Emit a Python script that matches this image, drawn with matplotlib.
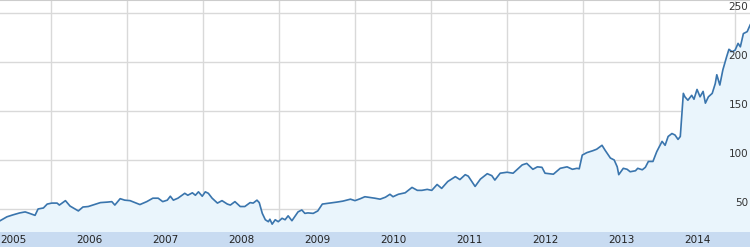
import matplotlib
matplotlib.use("Agg")
import matplotlib.pyplot as plt
from matplotlib.patches import Rectangle

# decimal year, price
dates = [2005.33, 2005.42, 2005.50, 2005.59, 2005.66, 2005.70, 2005.79, 2005.83, 2005.90, 2005.95,
         2006.01, 2006.08, 2006.11, 2006.19, 2006.25, 2006.36, 2006.42, 2006.49, 2006.55, 2006.65,
         2006.74, 2006.80, 2006.84, 2006.91, 2006.97, 2007.04, 2007.17, 2007.26, 2007.34, 2007.41,
         2007.47, 2007.53, 2007.57, 2007.61, 2007.67, 2007.76, 2007.80, 2007.86, 2007.90, 2007.94,
         2007.99, 2008.03, 2008.07, 2008.12, 2008.19, 2008.25, 2008.32, 2008.36, 2008.42, 2008.49,
         2008.55, 2008.62, 2008.66, 2008.71, 2008.74, 2008.78, 2008.82, 2008.86, 2008.88, 2008.91,
         2008.95, 2008.99, 2009.04, 2009.08, 2009.12, 2009.17, 2009.25, 2009.30, 2009.34, 2009.38,
         2009.45, 2009.51, 2009.57, 2009.67, 2009.76, 2009.84, 2009.94, 2010.00, 2010.07, 2010.13,
         2010.26, 2010.33, 2010.40, 2010.46, 2010.50, 2010.57, 2010.66, 2010.75, 2010.82, 2010.88,
         2010.95, 2011.01, 2011.08, 2011.14, 2011.22, 2011.32, 2011.38, 2011.45, 2011.49, 2011.58,
         2011.65, 2011.74, 2011.80, 2011.84, 2011.91, 2012.00, 2012.08, 2012.20, 2012.26, 2012.34,
         2012.40, 2012.46, 2012.50, 2012.61, 2012.70, 2012.79, 2012.86, 2012.92, 2012.95, 2012.99,
         2013.05, 2013.13, 2013.18, 2013.25, 2013.29, 2013.36, 2013.41, 2013.45, 2013.47, 2013.53,
         2013.58, 2013.62, 2013.69, 2013.72, 2013.78, 2013.82, 2013.86, 2013.92, 2013.97, 2014.04,
         2014.08, 2014.12, 2014.17, 2014.21, 2014.25, 2014.28, 2014.32, 2014.34, 2014.38, 2014.43,
         2014.46, 2014.50, 2014.54, 2014.58, 2014.61, 2014.65, 2014.70, 2014.74, 2014.76, 2014.80,
         2014.84, 2014.89, 2014.92, 2014.96, 2015.00, 2015.04, 2015.07, 2015.11, 2015.16, 2015.20]
prices = [38, 42, 44, 46, 47, 46, 43.5, 50, 51, 55,
          56, 56, 54, 58.5, 53, 48, 52, 52.5, 54, 56.5,
          57, 57.5, 54, 60.5, 59, 58.5, 54.5, 57.5, 61, 61,
          57.5, 59, 63, 59, 61, 66, 64, 66.5, 64, 67.5,
          63, 67.5, 66, 61, 56, 58.5, 55, 54, 57.5, 52.5,
          52.5, 56.5, 56, 59, 56.5, 45.5, 39, 37, 39.5, 34.5,
          39, 37, 40.5, 39, 43, 38, 47, 49, 45.5, 46,
          45.5, 48, 55, 56, 57, 58, 60, 58.5, 60.5, 62.5,
          61, 60, 62, 65, 62.5, 65, 66.5, 72, 69, 69,
          70, 69, 75, 71, 78, 83, 80, 85, 83.5, 73,
          80.5, 86, 84, 79.5, 86.5, 87.5, 86.5, 95, 96.5, 90.5,
          93, 92.5, 86.5, 85.5, 91.5, 93, 90.5, 91.5, 91, 105,
          107.5, 109.5, 111, 115, 110, 102, 100, 93, 85, 91.5,
          90.5, 88, 89, 91.5, 90, 92.5, 98.5, 98.5, 108.5, 119,
          115, 124, 127, 125.5, 121, 124, 168, 164.5, 161, 166,
          162, 172, 164.5, 170, 158, 164.5, 168, 178, 187, 176.5,
          192, 205.5, 213, 210.5, 212, 219, 215.5, 229, 231, 238]

years = [2005, 2006, 2007, 2008, 2009, 2010, 2011, 2012, 2013, 2014]
y_ticks = [50, 100, 150, 200, 250]

fig = plt.figure(figsize=(7.5, 2.47), dpi=100, facecolor="white")
band = 15 / 247
ax = fig.add_axes([0, band, 1, 1 - band])

fig.patches.append(Rectangle((0, 0), 1, band, transform=fig.transFigure,
                             facecolor="#c8dbf1", edgecolor="none", zorder=0))

ax.fill_between(dates, prices, 0, color="#eaf5fc", zorder=1)
ax.plot(dates, prices, color="#3a75ad", lw=1.2, zorder=3)

ax.set_xlim(2005.329, 2015.197)
ax.set_ylim(26.5, 263.3)

ax.set_xticks([y + 1 for y in years])
ax.set_xticklabels([])
ax.set_yticks(y_ticks)
ax.set_yticklabels([])
ax.grid(True, color="#d9d9d9", lw=1, zorder=2)
ax.set_axisbelow(True)
ax.tick_params(axis="x", direction="in", length=4, width=1, color="#999999")
ax.tick_params(axis="y", length=0)

for s in ["left", "right", "bottom"]:
    ax.spines[s].set_visible(False)
ax.spines["top"].set_color("#cccccc")
ax.spines["top"].set_linewidth(1.5)

for v in y_ticks:
    ax.text(2015.175, v + 0.8, str(v), ha="right", va="bottom",
            fontsize=7.5, color="#333333", zorder=4)

for y in years:
    fig.text((y + 0.5 - 2005.329) / (2015.197 - 2005.329), band / 2, str(y),
             ha="center", va="center", fontsize=7.5, color="#222222")

fig.savefig("out.png", dpi=100)
